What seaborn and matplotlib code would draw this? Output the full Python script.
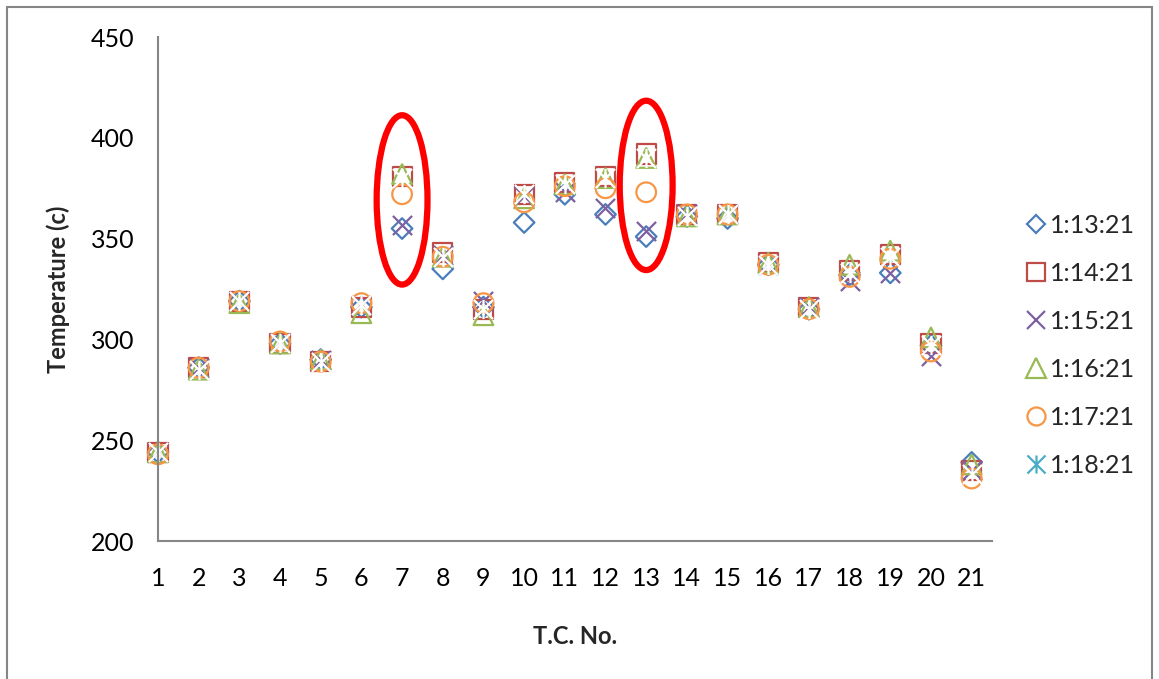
import matplotlib
matplotlib.use("Agg")
import matplotlib.pyplot as plt
from matplotlib.patches import Ellipse, Rectangle
from matplotlib.lines import Line2D
from matplotlib.path import Path
import seaborn as sns

# Thermocouple numbers along the bar
tc_no = list(range(1, 22))

# Temperature readings (c) at each recorded time
t_131321 = [244, 286, 319, 298, 290, 316, 355, 335, 316, 358, 372, 362, 351, 361, 360, 337, 315, 332, 333, 297, 239]
t_141421 = [244, 286, 319, 298, 289, 316, 381, 343, 315, 372, 378, 381, 392, 362, 362, 338, 316, 334, 342, 298, 235]
t_151521 = [244, 286, 319, 298, 290, 317, 357, 342, 319, 371, 373, 365, 354, 362, 362, 337, 316, 329, 333, 292, 235]
t_161621 = [244, 285, 318, 298, 290, 313, 382, 341, 312, 370, 377, 380, 390, 361, 362, 338, 316, 337, 344, 301, 238]
t_171721 = [243, 286, 319, 299, 289, 318, 372, 341, 318, 368, 376, 375, 373, 362, 362, 337, 315, 331, 340, 294, 231]
t_181821 = [244, 285, 319, 298, 289, 317, 380, 341, 315, 372, 377, 380, 390, 361, 362, 337, 315, 333, 341, 297, 233]

series_names = ["1:13:21", "1:14:21", "1:15:21", "1:16:21", "1:17:21", "1:18:21"]
series_vals = [t_131321, t_141421, t_151521, t_161621, t_171721, t_181821]
y_ticks = [200, 250, 300, 350, 400, 450]

# Asterisk marker: an X with a vertical stroke through it
star_path = Path(
    [(-1, -1), (1, 1), (-1, 1), (1, -1), (0, -1), (0, 1)],
    [Path.MOVETO, Path.LINETO, Path.MOVETO, Path.LINETO, Path.MOVETO, Path.LINETO],
)

colors = ["#4A7EBB", "#BE4B48", "#7D60A0", "#98B954", "#F79646", "#4BACC6"]
markers = ["D", "s", "x", "^", "o", star_path]
sizes = [110, 190, 190, 200, 200, 190]
filled = [True, True, False, True, True, False]

sns.set_style("white")
plt.rcParams["font.family"] = ["Lato", "DejaVu Sans"]

fig = plt.figure(figsize=(11.59, 6.79), dpi=100)
ax = fig.add_axes([0.1363, 0.2032, 0.7196, 0.7423])

for name, vals, c, m, s, f in zip(series_names, series_vals, colors, markers, sizes, filled):
    if f:
        sns.scatterplot(x=tc_no, y=vals, ax=ax, marker=m, s=s, color=c,
                        facecolor="none", edgecolor=c, linewidth=1.6,
                        legend=False, clip_on=False)
    else:
        sns.scatterplot(x=tc_no, y=vals, ax=ax, marker=m, s=s, color=c,
                        linewidth=1.6, legend=False, clip_on=False)

ax.set_xlim(1, 21.5)
ax.set_ylim(200, 450)
ax.set_xticks(tc_no)
ax.set_xticklabels([str(v) for v in tc_no])
ax.set_yticks(y_ticks)
ax.tick_params(axis="both", length=0, labelsize=18, colors="black")
ax.tick_params(axis="y", pad=17)
ax.tick_params(axis="x", pad=19)

for side in ["top", "right"]:
    ax.spines[side].set_visible(False)
for side in ["left", "bottom"]:
    ax.spines[side].set_color("#868686")
    ax.spines[side].set_linewidth(1.5)

ax.set_xlabel("T.C. No.", fontsize=17, fontweight="bold", labelpad=25)
ax.set_ylabel("Temperature (c)", fontsize=17, fontweight="bold", labelpad=15)

# Highlight the two anomalous thermocouples
for cx, cy, w in [(7, 369.2, 1.25), (13, 376.4, 1.3)]:
    ax.add_patch(Ellipse((cx, cy), width=w, height=84,
                         fill=False, edgecolor="#FF0000", linewidth=4.5,
                         clip_on=False, zorder=5))

# Legend on the right
handles = []
leg_sizes = [9, 13, 13, 14, 13, 13]
for name, c, m, ms in zip(series_names, colors, markers, leg_sizes):
    handles.append(Line2D([], [], linestyle="none", marker=m, markersize=ms,
                          markerfacecolor="none", markeredgecolor=c, color=c,
                          markeredgewidth=1.6, label=name))
leg = fig.legend(handles=handles, loc="center left", bbox_to_anchor=(0.877, 0.491),
                 frameon=False, fontsize=18, handlelength=0.8, handletextpad=0.15,
                 labelspacing=1.0, borderaxespad=0)

# Chart area border
fig.patches.append(Rectangle((7 / 1159, -0.05), 1145 / 1159, 1 - 7 / 679 + 0.05,
                             transform=fig.transFigure, fill=False,
                             edgecolor="#868686", linewidth=1.5))

fig.savefig("out.png", dpi=100)
